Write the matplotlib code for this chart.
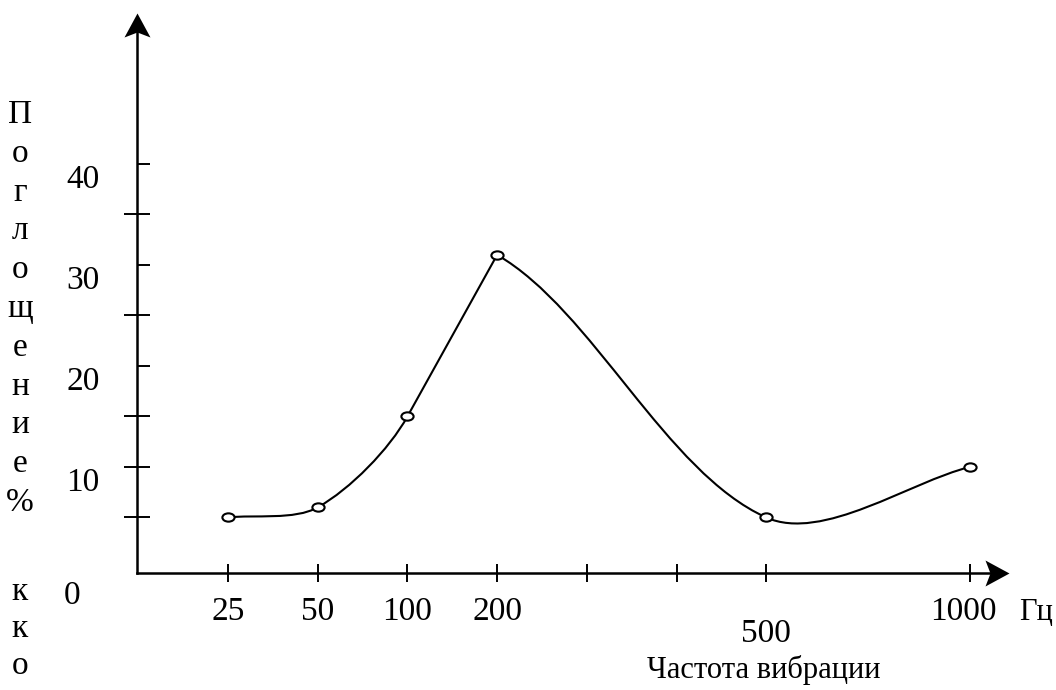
import numpy as np
import matplotlib
matplotlib.use('Agg')
import matplotlib.pyplot as plt
from matplotlib.path import Path
from matplotlib.patches import PathPatch
import matplotlib.transforms as mtransforms

plt.rcParams['font.family'] = ['Liberation Serif', 'DejaVu Serif']

# ---------------- data ----------------
frequency = [25, 50, 100, 200, 500, 1000]
absorption = [5, 6, 15, 31, 5, 10]
x_tick_values = [25, 50, 100, 200, 300, 400, 500, 1000]
x_label_values = [25, 50, 100, 200, 500, 1000]
x_label_texts = ['25', '50', '100', '200', '500', '1000']
y_major_ticks = [5, 10, 15, 25, 35]
y_minor_ticks = [20, 30, 40]
y_label_values = [10, 20, 30, 40]
y_title_top = 'Поглощение%'
y_title_bottom = 'кко'
x_title = 'Частота вибрации'
x_unit = 'Гц'

# hand-drawn piecewise-linear frequency axis
scale_freq = [0, 25, 50, 100, 200, 500, 1000, 2000]
scale_pos = [-1.015, 0, 1, 2, 3, 6, 8.27, 12.81]


def fwd(f):
    return np.interp(f, scale_freq, scale_pos)


def inv(p):
    return np.interp(p, scale_pos, scale_freq)


W, H = 1056, 690
fig = plt.figure(figsize=(W / 100, H / 100), dpi=100)

ax_l, ax_r, ax_b, ax_t = 137, 990, 573, 32
ax = fig.add_axes([ax_l / W, 1 - ax_b / H, (ax_r - ax_l) / W, (ax_b - ax_t) / H])
ax.set_xscale('function', functions=(fwd, inv))
ax.set_xlim(0, float(inv((ax_r - 228) / 89.7)))
ax.set_ylim(-0.5, (568 - ax_t) / 10.1)

for s in ['top', 'right']:
    ax.spines[s].set_visible(False)
for s in ['left', 'bottom']:
    ax.spines[s].set_linewidth(1.8)
    ax.spines[s].set_color('black')

ax.set_xticks(x_tick_values)
ax.set_xticks([], minor=True)
ax.tick_params(axis='x', which='major', direction='inout', length=13,
               width=1.4, labelbottom=False, color='black')
ax.set_yticks(y_major_ticks)
ax.set_yticks(y_minor_ticks, minor=True)
ax.tick_params(axis='y', which='major', direction='inout', length=19,
               width=1.4, labelleft=False, color='black')
ax.tick_params(axis='y', which='minor', direction='in', length=9.5,
               width=1.4, labelleft=False, color='black')

# ---------------- smooth hand-drawn style curve (Hermite / Bezier) ----------------
px_x, px_y = 89.7, 10.1
P = np.column_stack([fwd(np.array(frequency, float)) * px_x,
                     np.array(absorption, float) * px_y])
n = len(P)


def unit(v):
    return v / np.linalg.norm(v)


u_in = [None] * n
u_out = [None] * n
for i in range(n):
    if i == 0:
        d = unit(P[1] - P[0])
    elif i == n - 1:
        d = unit(P[-1] - P[-2])
    else:
        d = unit(P[i + 1] - P[i - 1])
    u_in[i] = d
    u_out[i] = d
# the rise 100 -> 200 Hz is drawn almost straight, with a sharp peak at 200 Hz
peak = int(np.argmax(absorption))
rise = unit(P[peak] - P[peak - 1])
u_in[peak - 1] = rise
u_out[peak - 1] = rise
u_in[peak] = rise
u_out[peak] = unit(unit(P[peak + 1] - P[peak]) + unit(P[peak + 1] - P[peak - 1]))

k = 0.88
verts = [tuple(P[0])]
codes = [Path.MOVETO]
for i in range(n - 1):
    L = np.linalg.norm(P[i + 1] - P[i])
    c1 = P[i] + u_out[i] * L / 3 * k
    c2 = P[i + 1] - u_in[i + 1] * L / 3 * k
    verts += [tuple(c1), tuple(c2), tuple(P[i + 1])]
    codes += [Path.CURVE4] * 3
verts = np.array(verts) / np.array([px_x, px_y])
curve = PathPatch(Path(verts, codes), facecolor='none', edgecolor='black',
                  lw=1.5, transform=ax.transLimits + ax.transAxes, zorder=2)
ax.add_patch(curve)

# markers: small open ellipses
circ = Path.unit_circle()
ell = Path(circ.vertices * np.array([1.0, 0.68]), circ.codes)
ax.plot(frequency, absorption, ls='none', marker=ell, ms=8.8, mfc='white',
        mec='black', mew=1.5, zorder=3, clip_on=False)

# axis arrows
up = Path([(0, 19), (-13, -5), (0, 0), (13, -5), (0, 19)],
          [Path.MOVETO, Path.LINETO, Path.LINETO, Path.LINETO, Path.CLOSEPOLY])
right = Path([(19, 0), (-5, 13), (0, 0), (-5, -13), (19, 0)],
             [Path.MOVETO, Path.LINETO, Path.LINETO, Path.LINETO, Path.CLOSEPOLY])
ms_arrow = 2 * 19 * 0.72
ax.plot([0], [1], transform=ax.transAxes, marker=up, ms=ms_arrow, color='black',
        mew=0, clip_on=False, zorder=4)
ax.plot([1], [0], transform=ax.transAxes, marker=right, ms=ms_arrow, color='black',
        mew=0, clip_on=False, zorder=4)

FS = 24
# y tick labels
ytrans = mtransforms.blended_transform_factory(ax.transAxes, ax.transData)
for v in y_label_values:
    t = ytrans + mtransforms.ScaledTranslation(-54 / 100, -24 / 100, fig.dpi_scale_trans)
    ax.text(0, v, str(v), transform=t, ha='center', va='baseline', fontsize=FS)
t0 = ytrans + mtransforms.ScaledTranslation(-65 / 100, -36 / 100, fig.dpi_scale_trans)
ax.text(0, 0, '0', transform=t0, ha='center', va='baseline', fontsize=FS)

# x tick labels
xtrans = mtransforms.blended_transform_factory(ax.transData, ax.transAxes)
for v, s in zip(x_label_values, x_label_texts):
    dy = -69 if s == '500' else -47
    dx = -6 if s == '1000' else 0
    t = xtrans + mtransforms.ScaledTranslation(dx / 100, dy / 100, fig.dpi_scale_trans)
    ax.text(v, 0, s, transform=t, ha='center', va='baseline', fontsize=FS, clip_on=False)

fig.text(1019 / W, 1 - 620 / H, x_unit, ha='left', va='baseline', fontsize=22)
fig.text(764 / W, 1 - 678 / H, x_title, ha='center', va='baseline', fontsize=22)

# stacked y title letters
for i, ch in enumerate(y_title_top):
    fig.text(20 / W, 1 - (123 + 38.8 * i) / H, ch, ha='center', va='baseline', fontsize=FS)
for i, ch in enumerate(y_title_bottom):
    fig.text(20 / W, 1 - (600 + 37 * i) / H, ch, ha='center', va='baseline', fontsize=FS)

fig.savefig('out.png', dpi=100)
